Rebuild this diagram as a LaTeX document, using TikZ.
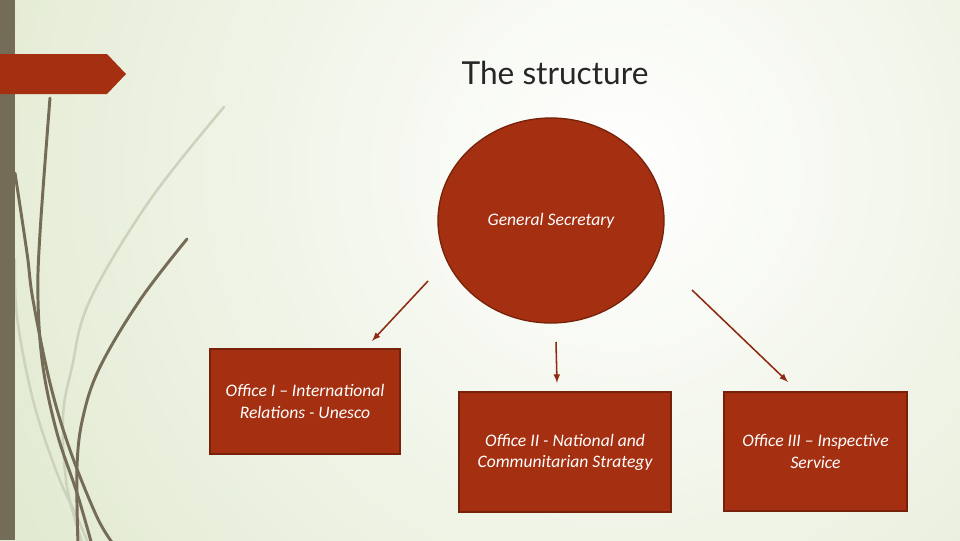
\documentclass[tikz,border=0pt]{standalone}
\usepackage{fontspec}
\setmainfont{Carlito}
\newfontfamily\titlefont{Lato}
\usepackage{tikz}
\usetikzlibrary{shapes.geometric}

\definecolor{slidered}{RGB}{164,47,17}
\definecolor{slideredline}{RGB}{118,33,10}
\definecolor{arrowred}{RGB}{140,42,18}
\definecolor{olivebar}{RGB}{116,108,86}
\definecolor{paleolive}{RGB}{204,211,188}
\definecolor{bgedge}{RGB}{218,228,196}
\definecolor{titlegray}{RGB}{38,38,38}

\tikzset{
  office/.style={draw=slideredline, line width=0.9pt, fill=slidered, text=white,
    font=\itshape\fontsize{12.5}{15}\selectfont, align=center, inner sep=0pt},
  link/.style={draw=arrowred, line width=1.1pt, -latex},
  grass/.style={olivebar, line width=2.1pt, line cap=round},
  faint/.style={paleolive, line width=1.8pt, line cap=round}
}

\begin{document}
\begin{tikzpicture}[x=0.025cm,y=-0.025cm]
  \useasboundingbox (0,0) rectangle (960,540);
  \begin{scope}
    \clip (0,0) rectangle (960,540);
    \shade[inner color=white, outer color=bgedge] (620,170) circle (900);
  \end{scope}
  \fill[olivebar] (0,0) rectangle (15,540);
  \begin{scope}
    \clip (15,0) rectangle (960,540);
    \draw[faint] plot[smooth,tension=0.6] coordinates
      {(224,107) (150,200) (90,300) (72,367) (63,417) (67,487) (83,545)};
    \draw[faint] plot[smooth,tension=0.6] coordinates
      {(15,260) (17,317) (33,400) (57,473) (77,517) (89,545)};
    \draw[grass] plot[smooth,tension=0.6] coordinates
      {(50,98) (40,233) (38,300) (43,367) (57,433) (77,493) (92,545)};
    \draw[grass] plot[smooth,tension=0.6] coordinates
      {(15,173) (27,253) (33,300) (50,383) (70,450) (97,517) (114,545)};
    \draw[grass] plot[smooth,tension=0.6] coordinates
      {(187,239) (140,300) (100,367) (83,417) (77,467) (78,545)};
  \end{scope}
  \fill[slidered] (0,54) -- (107,54) -- (126,74) -- (107,94) -- (0,94) -- cycle;

  \node[font=\titlefont\fontsize{22.5}{27}\selectfont, text=titlegray] (title) at (555,73) {The structure};
  \node[ellipse, draw=slideredline, line width=0.9pt, fill=slidered, text=white,
    minimum width=5.65cm, minimum height=5.125cm, inner sep=0pt,
    font=\itshape\fontsize{12.5}{15}\selectfont] (gs) at (551,220.5) {General Secretary};

  \node[office, minimum width=4.75cm, minimum height=2.625cm] (o1) at (305,401.5)
    {Office I – International\\Relations - Unesco};
  \node[office, minimum width=5.3cm, minimum height=3cm] (o2) at (565,452)
    {Office II - National and\\Communitarian Strategy};
  \node[office, minimum width=4.575cm, minimum height=2.975cm] (o3) at (815.5,451.5)
    {Office III – Inspective\\Service};

  \coordinate (a1) at (428,281);
  \coordinate (b1) at (372,341);
  \coordinate (a2) at (556,342);
  \coordinate (b2) at (557,383);
  \coordinate (a3) at (692,290);
  \coordinate (b3) at (788,382);
  \draw[link] (a1) -- (b1);
  \draw[link] (a2) -- (b2);
  \draw[link] (a3) -- (b3);
\end{tikzpicture}
\end{document}
